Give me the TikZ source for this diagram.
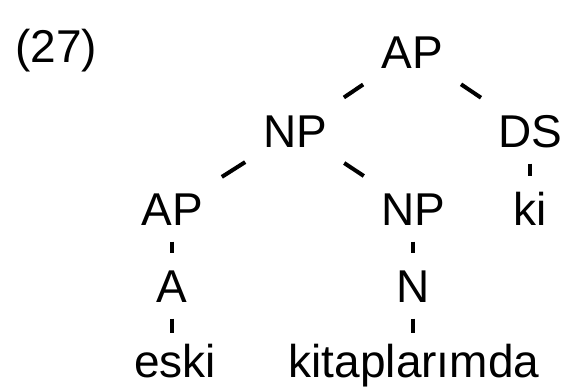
\documentclass[tikz,border=0pt]{standalone}
\usepackage{fontspec}
\setmainfont{Liberation Sans}
\tikzset{
    cat/.style={inner sep=0pt, text height=33pt, text depth=0pt, anchor=base},
    branch/.style={line width=4pt, shorten <=59pt, shorten >=59pt},
    stem/.style={line width=4pt, shorten <=33pt, shorten >=33pt},
}
\begin{document}
\begin{tikzpicture}[x=1pt, y=-1pt, font=\fontsize{46}{55}\selectfont]
    \useasboundingbox (0,0) rectangle (567,389);
    \node[anchor=base west, inner sep=0pt] (num) at (15,62) {(27)};
    % categories
    \node[cat] (ap) at (412,68) {AP};
    \node[cat] (np) at (295,147) {NP};
    \node[cat] (ds) at (530,147) {DS};
    \node[cat] (adjp) at (172,225) {AP};
    \node[cat] (nnp) at (413,225) {NP};
    \node[cat] (ki) at (530,225) {ki};
    \node[cat] (adj) at (172,302) {A};
    \node[cat] (noun) at (413,302) {N};
    % words
    \node[cat] (eski) at (175,377) {eski};
    \node[cat] (kitap) at (414,377) {kitaplarımda};
    % branches
    \draw[branch] (ap.center) -- (np.center);
    \draw[branch] (ap.center) -- (ds.center);
    \draw[branch] (np.center) -- (adjp.center);
    \draw[branch] (np.center) -- (nnp.center);
    \draw[stem] (ds.center) -- (ki.center);
    \draw[stem] (adjp.center) -- (adj.center);
    \draw[stem] (nnp.center) -- (noun.center);
    \draw[stem, shorten >=28pt] (adj.center) -- (adj.center |- eski.center);
    \draw[stem, shorten >=28pt] (noun.center) -- (noun.center |- kitap.center);
\end{tikzpicture}
\end{document}
